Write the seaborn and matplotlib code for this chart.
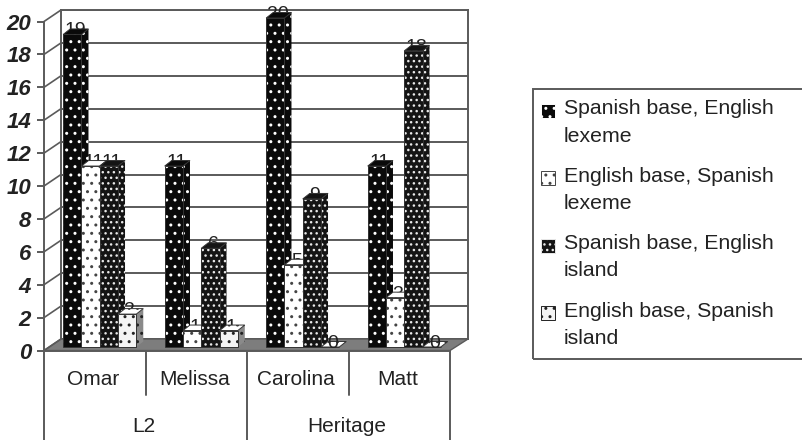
import numpy as np
import pandas as pd
import matplotlib
matplotlib.use("Agg")
import matplotlib.pyplot as plt
from matplotlib.patches import Polygon, Patch, Rectangle
from matplotlib.transforms import IdentityTransform
import seaborn as sns

speakers = ["Omar", "Melissa", "Carolina", "Matt"]
groups = ["L2", "Heritage"]
series_names = ["Spanish base, English\nlexeme", "English base, Spanish\nlexeme",
                "Spanish base, English\nisland", "English base, Spanish\nisland"]
spanish_lexeme = [19, 11, 20, 11]
english_lexeme = [11, 1, 5, 3]
spanish_island = [11, 6, 9, 18]
english_island = [2, 1, 0, 0]
y_ticks = list(range(0, 21, 2))

W, H = 802, 440
sns.set_theme(style="white")
plt.rcParams["font.family"] = ["Liberation Sans", "DejaVu Sans"]
plt.rcParams["hatch.linewidth"] = 1.0
LINE = "#5a5a5a"
TEXT = "#222222"

fig = plt.figure(figsize=(W / 100, H / 100), dpi=100, facecolor="white")

def rect(l, t, r, b):
    return [l / W, 1 - b / H, (r - l) / W, (b - t) / H]

def px(x, y):
    return (x, H - y)

identity = IdentityTransform()

# back wall
wall = fig.add_axes(rect(61, 10, 468, 339), zorder=1)
wall.set_xlim(0, 1); wall.set_ylim(0, 20)
wall.set_xticks([]); wall.set_yticks(y_ticks); wall.tick_params(length=0, labelleft=False)
wall.grid(axis="y", color=LINE, lw=1.4)
for s in wall.spines.values():
    s.set_color(LINE); s.set_linewidth(1.4)
wall.add_patch(Polygon([px(44, 350.5), px(61, 339), px(468, 339), px(450, 350.5)],
                       closed=True, transform=identity, clip_on=False,
                       facecolor="#7d7d7d", edgecolor=LINE, lw=1, zorder=5))

# front axis with ticks and the two category levels
front = fig.add_axes(rect(44, 21.5, 450, 350.5), zorder=2)
front.patch.set_visible(False)
front.set_xlim(-0.5, 3.5); front.set_ylim(0, 20)
for name in ["top", "right"]:
    front.spines[name].set_visible(False)
for name in ["left", "bottom"]:
    front.spines[name].set_color(LINE); front.spines[name].set_linewidth(1.4)
front.set_yticks(y_ticks)
front.tick_params(axis="y", length=5, width=1.4, color=LINE, pad=4.3, left=True)
for lab in front.get_yticklabels():
    lab.set_fontsize(16); lab.set_fontweight("bold"); lab.set_fontstyle("italic"); lab.set_color(TEXT)
front.set_xticks(np.arange(len(speakers)) - 0.02, speakers, fontsize=15, color=TEXT)
front.tick_params(axis="x", length=0, pad=14)
for v in y_ticks:
    y = 350.5 - v * 16.45
    front.plot([44, 61], [H - y, H - y + 11.5], transform=identity, color=LINE, lw=1.2, clip_on=False)
xf = front.get_xaxis_transform()
drop_short, drop_long = -44 / 329, -90 / 329
for x, d in zip([-0.5, 0.5, 1.5, 2.5, 3.5], [drop_long, drop_short, drop_long, drop_short, drop_long]):
    front.plot([x, x], [0, d], transform=xf, color=LINE, lw=1.4, clip_on=False)
for i, g in enumerate(groups):
    front.text(2 * i + 0.5 - 0.02, -76 / 329, g, transform=xf, ha="center", va="center",
               fontsize=15, color=TEXT)

# bars
df = pd.DataFrame({
    "speaker": np.tile(speakers, 4),
    "type": np.repeat(series_names, 4),
    "count": spanish_lexeme + english_lexeme + spanish_island + english_island,
})
ax = fig.add_axes(rect(49, 18, 455, 347), zorder=3)
ax.patch.set_visible(False)
palette = ["#0a0a0a", "#ffffff", "#141414", "#f4f4f4"]
sns.barplot(data=df, x="speaker", y="count", hue="type", order=speakers, hue_order=series_names,
            palette=palette, width=0.72, gap=0, dodge=True, legend=False, ax=ax, saturation=1)
ax.set_xlim(-0.5, 3.5); ax.set_ylim(0, 20)
ax.axis("off")

hatches = ["..", "..", "...", ".."]
dot_colors = ["#ffffff", "#444444", "#e8e8e8", "#222222"]
side_fill = ["#0a0a0a", "#ffffff", "#141414", "#8a8a8a"]
side_dots = ["#ffffff", "#444444", "#e8e8e8", "#222222"]
top_fill = ["#0a0a0a", "#ffffff", "#141414", "#ffffff"]
top_hatch = [None, None, None, ".."]
DX, DY = 7, 5.5
fig.canvas.draw()
for s, cont in enumerate(ax.containers):
    for c, bar in enumerate(cont):
        z = 2 + c * 4 + s * 0.5
        bar.set_facecolor(palette[s]); bar.set_edgecolor(dot_colors[s])
        bar.set_hatch(hatches[s]); bar.set_linewidth(0); bar.set_zorder(z + 0.2)
        x0, x1 = bar.get_x(), bar.get_x() + bar.get_width()
        h = bar.get_height()
        (l, b), (r, t) = ax.transData.transform([(x0, 0), (x1, h)])
        ax.add_patch(Polygon([(r, b), (r + DX, b + DY), (r + DX, t + DY), (r, t)], transform=identity,
                             facecolor=side_fill[s], edgecolor=side_dots[s], hatch=hatches[s], lw=0,
                             clip_on=False, zorder=z))
        ax.add_patch(Polygon([(l, t), (r, t), (r + DX, t + DY), (l + DX, t + DY)], transform=identity,
                             facecolor=top_fill[s], edgecolor="#333333", lw=0.7, hatch=top_hatch[s],
                             clip_on=False, zorder=z + 0.1))
        ax.add_patch(Rectangle((l, b), r - l, t - b, transform=identity, fill=False,
                               edgecolor="#333333", lw=0.7, clip_on=False, zorder=z + 0.3))
        ax.annotate(f"{int(h)}", xy=(x0 + bar.get_width() / 2, h), xytext=(2, -0.7),
                    textcoords="offset points", ha="center", va="baseline", fontsize=14,
                    color=TEXT, zorder=40 if h == 0 else 1, annotation_clip=False)

# legend
fig.add_artist(Rectangle((533, H - 359), 290, 270, transform=identity, fill=False,
                         edgecolor=LINE, lw=1.4))
handles = [Patch(facecolor=palette[i], edgecolor=dot_colors[i], hatch=hatches[i], lw=0) for i in range(4)]
leg = fig.legend(handles, series_names, loc="upper left", bbox_to_anchor=(537 / W, 1 - 95 / H),
                 frameon=False, fontsize=15.3, handlelength=0.65, handleheight=0.65,
                 handletextpad=0.4, labelspacing=1.0, borderpad=0.2, borderaxespad=0,
                 labelcolor=TEXT)
for t in leg.get_texts():
    t.set_linespacing(1.55)
for h_ in leg.legend_handles:
    h_.set_linewidth(0.7)
    h_.set_y(h_.get_y() + 8.5)

fig.savefig("out.png", dpi=100)
